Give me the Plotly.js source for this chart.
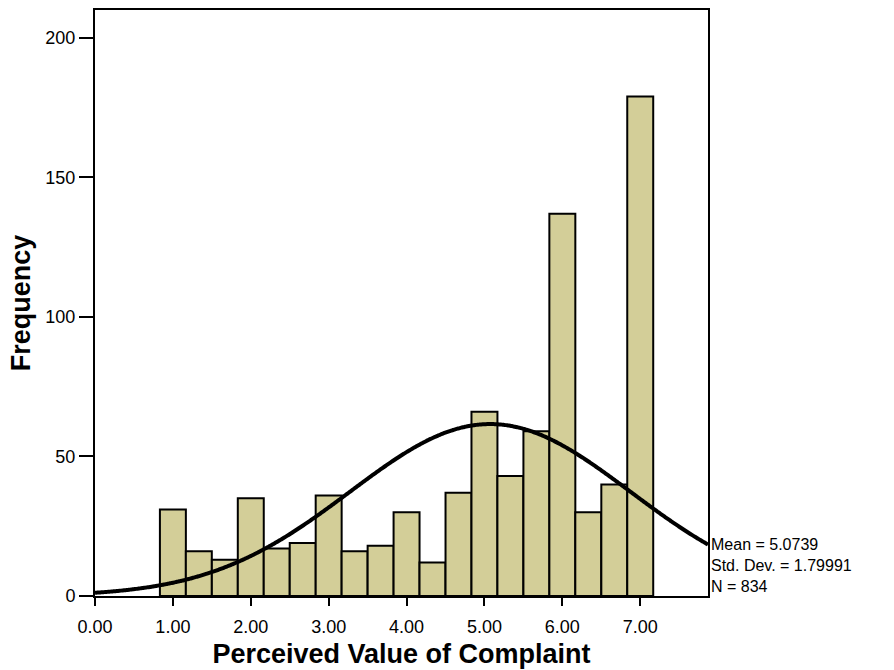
<!DOCTYPE html>
<html><head><meta charset="utf-8">
<script src="https://cdn.plot.ly/plotly-3.0.1.min.js"></script>
<style>body{margin:0;background:#fff}#chart{width:894px;height:670px}</style>
</head><body><div id="chart"></div>
<script>
// Bin centres (scale values) and frequencies
var binCenters = [1.000, 1.333, 1.667, 2.000, 2.333, 2.667, 3.000, 3.333, 3.667, 4.000,
                  4.333, 4.667, 5.000, 5.333, 5.667, 6.000, 6.333, 6.667, 7.000];
var frequencies = [31, 16, 13, 35, 17, 19, 36, 16, 18, 30, 12, 37, 66, 43, 59, 137, 30, 40, 179];
var binWidth = 1/3;
// Reported summary statistics
var statMean = 5.0739;
var statSD = 1.79991;
var statN = 834;
var xTicks = [0, 1, 2, 3, 4, 5, 6, 7];
var xTickLabels = ["0.00", "1.00", "2.00", "3.00", "4.00", "5.00", "6.00", "7.00"];
var yTicks = [0, 50, 100, 150, 200];

// Fitted normal curve (as drawn by SPSS) from the reported mean, SD and N
var xMax = 7.87;
var curveX = [], curveY = [];
for (var i = 0; i <= 400; i++) {
  var x = xMax * i / 400;
  var z = (x - statMean) / statSD;
  curveX.push(x);
  curveY.push(statN * binWidth / (statSD * Math.sqrt(2 * Math.PI)) * Math.exp(-0.5 * z * z));
}

var font = "Liberation Sans, Arial, sans-serif";
var traces = [
  {type: "bar", x: binCenters, y: frequencies, width: binWidth,
   marker: {color: "#D3CE98", line: {color: "#000", width: 2}}, hoverinfo: "x+y"},
  {type: "scatter", mode: "lines", x: curveX, y: curveY,
   line: {color: "#000", width: 4, shape: "spline"}, hoverinfo: "skip"}
];
var statText = ["Mean = " + statMean.toFixed(4), "Std. Dev. = " + statSD.toFixed(5), "N = " + statN].join("<br>");
var layout = {
  width: 894, height: 670,
  margin: {l: 95, r: 186, t: 10, b: 74},
  paper_bgcolor: "#fff", plot_bgcolor: "#fff",
  showlegend: false, bargap: 0,
  font: {family: font, color: "#000"},
  xaxis: {range: [0, xMax], tickvals: xTicks, ticktext: xTickLabels, ticks: "outside", ticklen: 8, tickwidth: 2,
          tickcolor: "#000", showgrid: false, zeroline: false, showline: true, linecolor: "#000", linewidth: 2,
          mirror: true, tickfont: {size: 18, family: font}, ticklabelstandoff: 5,
          title: {text: "<b>Perceived Value of Complaint</b>", font: {size: 27, family: font}, standoff: 9}},
  yaxis: {range: [0, 210], tickvals: yTicks, ticks: "outside", ticklen: 14, tickwidth: 2, tickcolor: "#000",
          showgrid: false, zeroline: false, showline: true, linecolor: "#000", linewidth: 2, mirror: true,
          tickfont: {size: 18, family: font},
          title: {text: "<b>Frequency</b>", font: {size: 27, family: font}, standoff: 7}},
  annotations: [{xref: "paper", yref: "paper", x: 1, y: (596 - 565) / 586, xanchor: "left", yanchor: "middle",
                 align: "left", xshift: 2, text: statText, showarrow: false, borderpad: 0,
                 font: {family: font, size: 16, color: "#000"}}]
};
Plotly.newPlot("chart", traces, layout, {displayModeBar: false, staticPlot: true});
</script></body></html>
